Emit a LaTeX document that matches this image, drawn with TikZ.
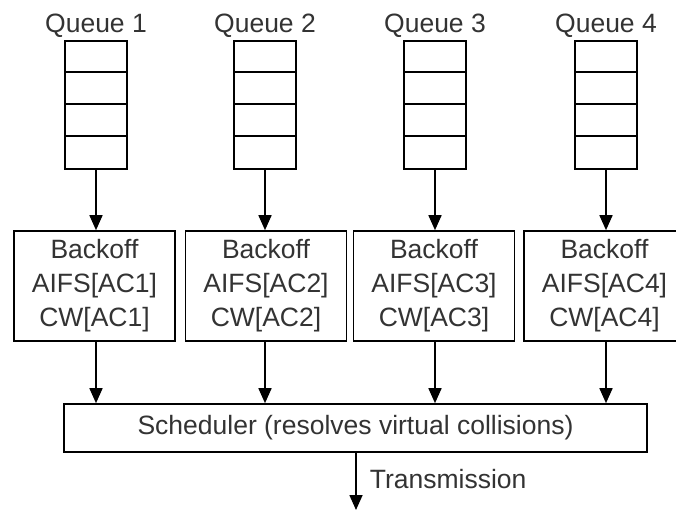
\documentclass[tikz,border=0pt]{standalone}
\usepackage{fontspec}
\setmainfont{Liberation Sans}
\usetikzlibrary{arrows.meta}
\begin{document}
\begin{tikzpicture}[x=1pt,y=-1pt,
  font=\fontsize{26.5}{34}\selectfont,
  line width=1.6pt,
  txt/.style={text=black!80, inner sep=0pt},
  queuebox/.style={draw, minimum width=62pt, minimum height=128pt, inner sep=0pt},
  backoffbox/.style={draw, minimum width=161pt, minimum height=110pt, align=center, text=black!80, inner sep=0pt},
  schedbox/.style={draw, minimum width=583pt, minimum height=48pt, text=black!80, inner sep=0pt},
  flow/.style={-{Triangle[width=13pt,length=15pt]}, line width=1.6pt}
]
\useasboundingbox (0,0) rectangle (676,510);
\fill[white] (0,0) rectangle (676,510);

% queue labels
\foreach \i/\x in {1/96,2/265,3/435,4/606}{
  \node[txt, anchor=base] (ql\i) at (\x,33) {Queue \i};
  \node[queuebox] (q\i) at (\x,105) {};
  \draw (q\i.north west) ++(0,32) -- ++(62,0);
  \draw (q\i.north west) ++(0,64) -- ++(62,0);
  \draw (q\i.north west) ++(0,96) -- ++(62,0);
}

% backoff boxes
\node[backoffbox] (b1) at (94.5,286) {Backoff\\AIFS[AC1]\\CW[AC1]};
\node[backoffbox] (b2) at (266,286) {Backoff\\AIFS[AC2]\\CW[AC2]};
\node[backoffbox] (b3) at (434,286) {Backoff\\AIFS[AC3]\\CW[AC3]};
\node[backoffbox] (b4) at (604.5,286) {Backoff\\AIFS[AC4]\\CW[AC4]};

% scheduler
\node[schedbox] (s) at (355.5,428) {Scheduler (resolves virtual collisions)};

% arrows
\foreach \i in {1,2,3,4}{
  \draw[flow] (q\i.south) -- (q\i.south |- b\i.north);
  \draw[flow] (q\i.south |- b\i.south) -- (q\i.south |- s.north);
}

\coordinate (out) at (356,510);
\draw[flow] (out |- s.south) -- (out);
\node[txt, anchor=base west] (tx) at (369,488) {Transmission};
\end{tikzpicture}
\end{document}
